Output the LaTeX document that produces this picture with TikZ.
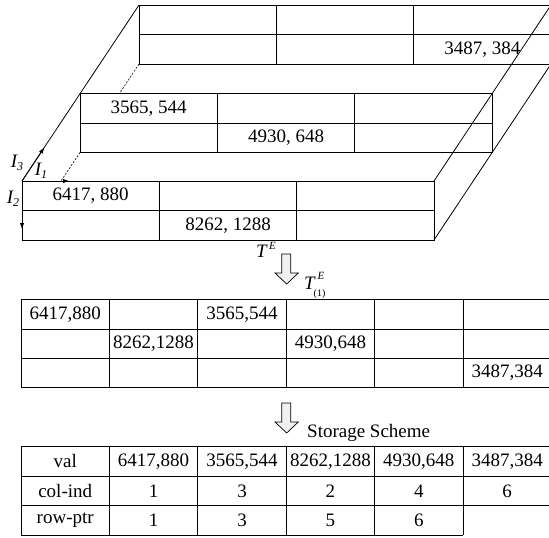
\documentclass[tikz,border=0pt]{standalone}
\usepackage{fontspec}
\setmainfont{Liberation Serif}
\usetikzlibrary{arrows.meta}
\newcommand{\mysub}[1]{\raisebox{-3.5pt}{\fontsize{12}{12}\selectfont #1}}
\begin{document}
\begin{tikzpicture}[x=1pt,y=-1pt,
  ln/.style={line width=0.8pt, draw=black},
  dsh/.style={line width=0.6pt, draw=black, dash pattern=on 2pt off 1.5pt},
  txt/.style={font=\fontsize{19}{22}\selectfont, inner sep=0pt},
  sml/.style={font=\fontsize{11}{11}\selectfont\itshape, inner sep=0pt},
  tiny/.style={font=\fontsize{10}{10}\selectfont, inner sep=0pt},
  hollow/.style={draw=black, line width=0.7pt, fill=gray!12},
  ax/.style={line width=0.8pt, -{Latex[length=6pt,width=4.5pt]}}
]
\useasboundingbox (0,0) rectangle (549,538);

% ---- three slabs (back, middle, front)
\foreach \dx/\dy in {117/-176, 58/-87.5, 0/0} {
  \begin{scope}[shift={(\dx,\dy)}]
    \draw[ln] (22,181) rectangle (434,240);
    \draw[ln] (22,210.5) -- (434,210.5);
    \draw[ln] (159.3,181) -- (159.3,240);
    \draw[ln] (296.7,181) -- (296.7,240);
  \end{scope}
}
% ---- box edges
\draw[ln] (139,5) -- (22,181);
\draw[ln] (434,181) -- (551,5);
\draw[ln] (434,240) -- (551,64);
\draw[dsh] (139,64) -- (119.5,93.5);
\draw[dsh] (80,152.5) -- (61,181);

% ---- slab entries
\node[txt] (f1) at (90.7,195.8) {6417, 880};
\node[txt] (f2) at (228,225.3) {8262, 1288};
\node[txt] (m1) at (148.7,108.3) {3565, 544};
\node[txt] (m2) at (286,137.8) {4930, 648};
\node[txt] (b1) at (482.3,49.3) {3487, 384};

% ---- axes
\coordinate (O) at (22,181);
\coordinate (e1) at (69,181);
\coordinate (e2) at (22,229);
\coordinate (e3) at (44.3,147.5);
\draw[ax] (O) -- (e1);
\draw[ax] (O) -- (e2);
\draw[ax] (O) -- (e3);
\node[txt] (l3) at (17,163) {\itshape I\mysub{3}};
\node[txt] (l1) at (41,171) {\itshape I\mysub{1}};
\node[txt] (l2) at (13,199) {\itshape I\mysub{2}};

% ---- T^E labels
\node[txt] (teT) at (261.5,251.5) {\itshape T};
\node[sml] (teE) at (272.5,245.5) {E};
\node[txt] (te1T) at (309.5,283.5) {\itshape T};
\node[sml] (te1E) at (321,276) {E};
\node[tiny] (te1s) at (319.5,294.5) {(1)};

% ---- hollow arrows
\foreach \sy in {0,149} {
  \begin{scope}[shift={(0,\sy)}]
    \draw[hollow] (281.7,254) -- (290.7,254) -- (290.7,273) -- (298.3,273)
      -- (286.7,284) -- (275,273) -- (281.7,273) -- cycle;
  \end{scope}
}

% ---- unfolded matrix
\foreach \y in {299.3,329,358.5,387.5} \draw[ln] (21,\y) -- (551.4,\y);
\foreach \x in {21,109.4,197.8,286.2,374.6,463,551.4} \draw[ln] (\x,299.3) -- (\x,387.5);
\node[txt] (u1) at (65.2,314.2) {6417,880};
\node[txt] (u2) at (242,314.2) {3565,544};
\node[txt] (u3) at (153.6,343.8) {8262,1288};
\node[txt] (u4) at (330.4,343.8) {4930,648};
\node[txt] (u5) at (507.2,373) {3487,384};

% ---- storage scheme
\node[txt, anchor=west] (ss) at (307,433) {Storage Scheme};
\foreach \y in {446.7,476,505.7} \draw[ln] (21,\y) -- (551.4,\y);
\draw[ln] (21,535) -- (463,535);
\foreach \x in {21,109.4,197.8,286.2,374.6,463} \draw[ln] (\x,446.7) -- (\x,535);
\draw[ln] (551.4,446.7) -- (551.4,505.7);

\node[txt] (s11) at (65.2,461.3) {val};
\node[txt] (s12) at (153.6,461.3) {6417,880};
\node[txt] (s13) at (242,461.3) {3565,544};
\node[txt] (s14) at (330.4,461.3) {8262,1288};
\node[txt] (s15) at (418.8,461.3) {4930,648};
\node[txt] (s16) at (507.2,461.3) {3487,384};
\node[txt] (s21) at (65.2,490.9) {col-ind};
\node[txt] (s22) at (153.6,490.9) {1};
\node[txt] (s23) at (242,490.9) {3};
\node[txt] (s24) at (330.4,490.9) {2};
\node[txt] (s25) at (418.8,490.9) {4};
\node[txt] (s26) at (507.2,490.9) {6};
\node[txt] (s31) at (65.2,520.4) {row-ptr};
\node[txt] (s32) at (153.6,520.4) {1};
\node[txt] (s33) at (242,520.4) {3};
\node[txt] (s34) at (330.4,520.4) {5};
\node[txt] (s35) at (418.8,520.4) {6};
\end{tikzpicture}
\end{document}
